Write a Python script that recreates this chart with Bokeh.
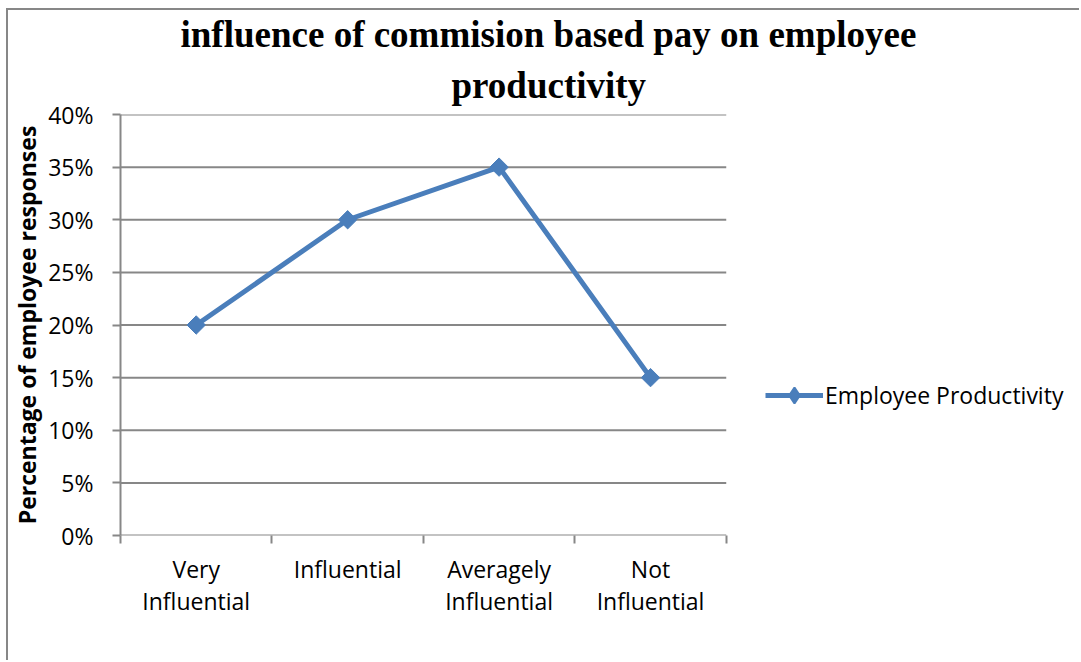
import math
from bokeh.plotting import figure
from bokeh.models import (Range1d, FixedTicker, NumeralTickFormatter, Legend, LegendItem,
                          Title, ColumnDataSource)
from bokeh.embed import file_html
from bokeh.resources import INLINE

categories = ["Very\nInfluential", "Influential", "Averagely\nInfluential", "Not\nInfluential"]
values = [0.20, 0.30, 0.35, 0.15]
y_ticks = [0.0, 0.05, 0.10, 0.15, 0.20, 0.25, 0.30, 0.35, 0.40]
series_name = "Employee Productivity"
title_line1 = "influence of commision based pay on employee"
title_line2 = "productivity"
y_label = "Percentage of employee responses"

LINE = "#4A7EBB"
GRID = "#878787"
FONT = "Open Sans"

# layout geometry (pixels)
CANVAS_W, CANVAS_H = 1073, 652
LEFT, TOP, BOTTOM = 110, 104, 127
PLOT_W = 607                      # width used by the categories
FRAME_W = CANVAS_W - LEFT         # frame extends to the right edge (legend lives in it)
n = len(categories)
x_end = n * FRAME_W / PLOT_W

xs = [i + 0.5 for i in range(n)]
src = ColumnDataSource(dict(x=xs, y=values))
grid_src = ColumnDataSource(dict(x0=[0] * len(y_ticks), x1=[n] * len(y_ticks),
                                 y=y_ticks))

p = figure(width=CANVAS_W, height=CANVAS_H, output_backend="svg", toolbar_location=None,
           x_range=Range1d(0, x_end), y_range=Range1d(0, 0.40),
           min_border_left=LEFT, min_border_right=0, min_border_top=TOP,
           min_border_bottom=BOTTOM, title=None)
p.styles = {"border-top": "2px solid #878787", "border-left": "2px solid #878787",
            "margin-left": "6px", "margin-top": "8px"}
p.outline_line_color = None
p.background_fill_color = "white"
p.border_fill_color = "white"

t2 = Title(text=title_line2, align="left", text_font="Liberation Serif",
           text_font_size="37px", text_font_style="bold", text_color="black",
           standoff=17, offset=331)
t1 = Title(text=title_line1, align="left", text_font="Liberation Serif",
           text_font_size="37px", text_font_style="bold", text_color="black",
           standoff=0, offset=60)
p.add_layout(t2, "above")
p.add_layout(t1, "above")

# x axis: labels at category centres, tick marks at category boundaries
p.xaxis.ticker = FixedTicker(ticks=xs, minor_ticks=list(range(n + 1)))
p.xaxis.major_label_overrides = {x: c for x, c in zip(xs, categories)}
p.xaxis.major_tick_out = 0
p.xaxis.major_tick_in = 0
p.xaxis.minor_tick_out = 8
p.xaxis.minor_tick_in = 0
p.xaxis.minor_tick_line_color = GRID
p.xaxis.minor_tick_line_width = 2
p.xaxis.axis_line_color = None
p.xaxis.major_label_standoff = 9
p.xaxis.major_label_text_font = FONT
p.xaxis.major_label_text_font_size = "23px"
p.xaxis.major_label_text_color = "black"
p.xaxis.major_label_text_line_height = 1.0

p.yaxis.ticker = FixedTicker(ticks=y_ticks, minor_ticks=[])
p.yaxis.formatter = NumeralTickFormatter(format="0%")
p.yaxis.major_tick_out = 8
p.yaxis.major_tick_in = 0
p.yaxis.major_tick_line_color = GRID
p.yaxis.major_tick_line_width = 2
p.yaxis.axis_line_color = GRID
p.yaxis.axis_line_width = 2
p.yaxis.major_label_standoff = 19
p.yaxis.major_label_text_font = FONT
p.yaxis.major_label_text_font_size = "23px"
p.yaxis.major_label_text_color = "black"
p.yaxis.axis_label = y_label
p.yaxis.axis_label_text_font = FONT
p.yaxis.axis_label_text_font_size = "23px"
p.yaxis.axis_label_text_font_style = "bold"
p.yaxis.axis_label_text_color = "black"
p.yaxis.axis_label_standoff = 2

p.xgrid.grid_line_color = None
p.ygrid.grid_line_color = None
# horizontal gridlines over the category area only
p.segment(x0="x0", x1="x1", y0="y", y1="y", source=grid_src,
          line_color=GRID, line_width=2)

r_line = p.line("x", "y", source=src, line_color=LINE, line_width=5)
r_pts = p.scatter("x", "y", source=src, marker="square", angle=math.pi / 4, size=13,
                  fill_color=LINE, line_color=LINE)

# hidden diamond renderer used only for the legend swatch
# (legend swatches ignore marker rotation)
r_leg = p.scatter("x", "y", source=src, marker="diamond", size=18,
                  fill_color=LINE, line_color=LINE, line_width=2, visible=False)

legend = Legend(items=[LegendItem(label=series_name, renderers=[r_line, r_leg])],
                location=(PLOT_W + 38, 120), orientation="vertical",
                border_line_color=None, background_fill_alpha=0,
                inactive_fill_alpha=0, click_policy="none",
                padding=0, margin=0, spacing=0,
                glyph_width=58, glyph_height=40, label_standoff=2,
                label_text_font=FONT, label_text_font_size="23px",
                label_text_color="black")
p.add_layout(legend, "center")

open("out.html", "w").write(file_html(p, INLINE))
